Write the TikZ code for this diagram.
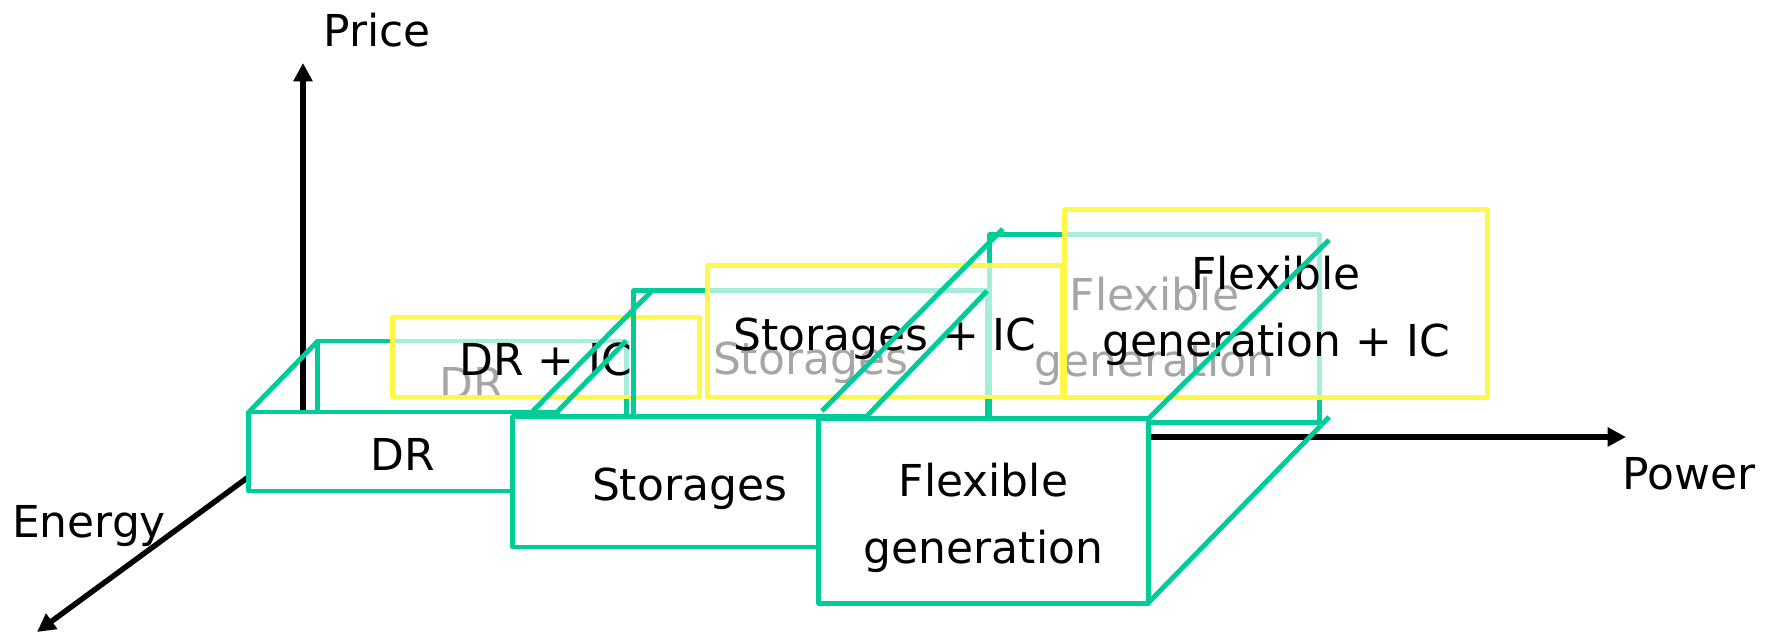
\documentclass[tikz,border=0pt]{standalone}
\usepackage{fontspec}
\setmainfont{DejaVu Sans}
\usetikzlibrary{arrows.meta}
\definecolor{boxgreen}{RGB}{0,204,153}
\definecolor{icyellow}{RGB}{255,248,72}
\tikzset{
  frontface/.style = {rectangle, draw=boxgreen, line width=1.4pt, line join=round, fill=white, inner sep=0, outer sep=0, align=center, font=\fontsize{12.5}{19}\selectfont, text height=12pt, text depth=1.4pt},
  backface/.style  = {frontface, fill=none},
  icbox/.style     = {rectangle, draw=icyellow, line width=1.4pt, line join=round, fill=white, fill opacity=0.65, text opacity=1, inner sep=0, outer sep=0, align=center, font=\fontsize{12.5}{19}\selectfont, text height=12pt, text depth=1.4pt},
  twolines/.style  = {text height=32pt, text depth=2.4pt},
  sideline/.style  = {draw=boxgreen, line width=1.4pt},
  axisline/.style  = {line width=1.55pt, -{Triangle[length=5.2pt,width=5.2pt]}},
  axislabel/.style = {font=\fontsize{12.5}{15}\selectfont}
}

\begin{document}
\begin{tikzpicture}[x=0.01cm, y=-0.01cm]

  \useasboundingbox (0,0) rectangle (1768,634);

  % axes
  \coordinate (o)     at (303,437);
  \coordinate (ptip)  at (303,63);
  \coordinate (wtip)  at (1626,437);
  \coordinate (etip)  at (37,632);
  \draw[axisline] (o) -- (ptip);  \node[axislabel] (price)  at (377,30)  {Price};
  \draw[axisline] (o) -- (wtip);  \node[axislabel] (power)  at (1689,474) {Power};
  \draw[axisline] (o) -- (etip);  \node[axislabel] (energy) at (89,526)  {Energy};

  % back faces and IC boxes
  \node[backface, minimum width=3.08cm, minimum height=0.79cm] (drb)  at (472,380.5)  {DR};
  \node[icbox,    minimum width=3.06cm, minimum height=0.80cm] (dric) at (546,357)    {DR + IC};
  \node[backface, minimum width=3.53cm, minimum height=1.30cm] (stb)  at (810.5,356)  {Storages};
  \node[backface, twolines, text height=29.9pt, minimum width=3.29cm, minimum height=1.87cm] (fgb) at (1154.5,328.5) {Flexible\\generation};
  \node[icbox,    minimum width=3.54cm, minimum height=1.31cm] (stic) at (885,331.5)  {Storages + IC};
  \node[icbox, twolines, text height=32.7pt, minimum width=4.22cm, minimum height=1.87cm] (fgic) at (1276,303.5) {Flexible\\generation + IC};

  % front faces
  \node[frontface, minimum width=3.08cm, minimum height=0.79cm] (dr) at (403,451.5) {DR};
  \node[frontface, minimum width=3.53cm, minimum height=1.30cm] (st) at (689.5,482) {Storages};
  \node[frontface, twolines, minimum width=3.29cm, minimum height=1.84cm] (fg) at (983.5,511) {Flexible\\generation};

  % side lines
  \draw[sideline] (dr.north west) -- (drb.north west);
  \draw[sideline] (dr.north east) -- (drb.north east);
  \draw[sideline] ([shift={(20,-6)}]st.north west) -- ([shift={(18,0)}]stb.north west);
  \draw[sideline] (st.north east) -- (stb.north east);
  \draw[sideline] ([shift={(3,-8)}]fg.north west) -- ([shift={(13,-6)}]fgb.north west);
  \draw[sideline] (fg.north east) -- ([shift={(10,5)}]fgb.north east);
  \draw[sideline] (fg.south east) -- ([shift={(10,-5)}]fgb.south east);

\end{tikzpicture}
\end{document}
